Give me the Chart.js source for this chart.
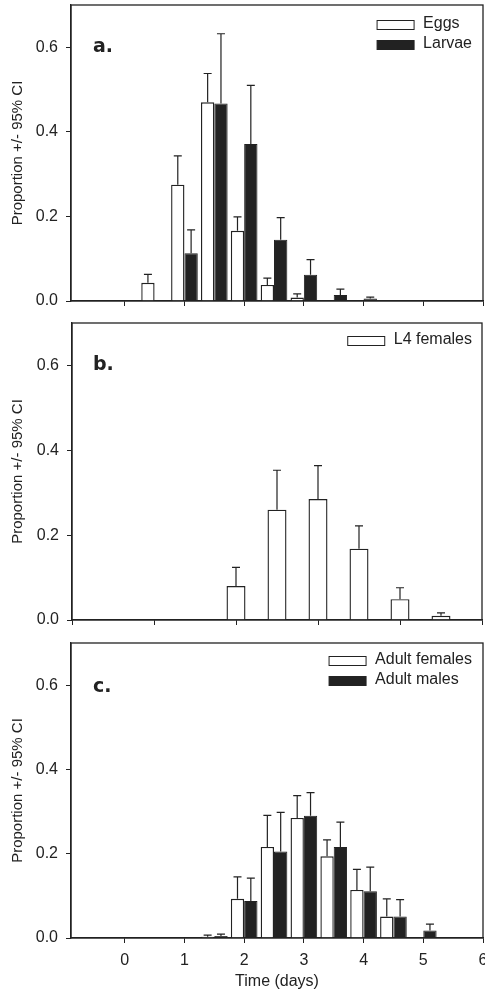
<!DOCTYPE html>
<html>
<head>
<meta charset="utf-8">
<script src="https://cdn.jsdelivr.net/npm/chart.js@4.4.1/dist/chart.umd.min.js"></script>
<style>
  html, body { margin: 0; padding: 0; background: #fff; }
  body { width: 485px; height: 995px; position: relative; overflow: hidden; }
  canvas { position: absolute; left: 0; }
</style>
</head>
<body>
<canvas id="panelA" width="485" height="316" style="top:0px"></canvas>
<canvas id="panelB" width="485" height="320" style="top:316px"></canvas>
<canvas id="panelC" width="485" height="359" style="top:636px"></canvas>
<script>
// ─── Data (proportion, upper 95% CI) ───────────────────────────────
// a. eggs / larvae
const daysA    = [0.5, 1, 1.5, 2, 2.5, 3, 3.5, 4];
const eggs     = [0.043, 0.275, 0.470, 0.166, 0.038, 0.008, 0, 0];
const eggsCI   = [0.063, 0.343, 0.538, 0.199, 0.054, 0.017, null, null];
const larvae   = [0.002, 0.113, 0.467, 0.371, 0.145, 0.062, 0.014, 0.006];
const larvaeCI = [null, 0.168, 0.632, 0.510, 0.197, 0.098, 0.028, 0.009];

// b. L4 females
const daysB       = [2, 2.5, 3, 3.5, 4, 4.5];
const l4Females   = [0.080, 0.260, 0.285, 0.168, 0.049, 0.010];
const l4FemalesCI = [0.124, 0.353, 0.364, 0.222, 0.076, 0.017];

// c. adults
const daysC          = [1.5, 2, 2.5, 3, 3.5, 4, 4.5, 5];
const adultFemales   = [0.003, 0.093, 0.216, 0.285, 0.194, 0.114, 0.051, 0];
const adultFemalesCI = [0.007, 0.145, 0.291, 0.338, 0.233, 0.163, 0.093, null];
const adultMales     = [0.005, 0.088, 0.205, 0.290, 0.216, 0.111, 0.051, 0.018];
const adultMalesCI   = [0.009, 0.142, 0.298, 0.345, 0.275, 0.168, 0.091, 0.033];

// ticks
const yTicks   = [0, 0.2, 0.4, 0.6];
const xTicksAC = [0, 1, 2, 3, 4, 5, 6];
const xTicksB  = [0, 1, 2, 3, 4, 5];

// ─── Style ──────────────────────────────────────────────────────────
const INK  = '#222';
const FONT = '"Liberation Sans", Arial, sans-serif';

function points(days, vals) {
  return days.map((d, i) => ({ x: d, y: vals[i] }));
}

function whiteSeries(label, days, vals, ci) {
  return { label, data: points(days, vals), ci,
    backgroundColor: '#fff', borderColor: INK, borderWidth: 1.4 };
}
function blackSeries(label, days, vals, ci) {
  return { label, data: points(days, vals), ci,
    backgroundColor: INK, borderColor: INK, borderWidth: 1 };
}

// error bars, frame, legend and panel letter
const decoPlugin = {
  id: 'deco',
  afterDatasetsDraw(chart, args, opts) {
    const ctx = chart.ctx;
    const area = chart.chartArea;
    const yScale = chart.scales.y;
    ctx.save();

    // upper CI whiskers
    ctx.strokeStyle = INK;
    ctx.lineWidth = 1.2;
    chart.data.datasets.forEach((ds, di) => {
      const meta = chart.getDatasetMeta(di);
      meta.data.forEach((bar, i) => {
        const up = ds.ci[i];
        if (up == null) return;
        const yTop = yScale.getPixelForValue(up);
        ctx.beginPath();
        ctx.moveTo(bar.x, bar.y);
        ctx.lineTo(bar.x, yTop);
        ctx.moveTo(bar.x - 4, yTop);
        ctx.lineTo(bar.x + 4, yTop);
        ctx.stroke();
      });
    });

    // frame
    ctx.lineWidth = 1.3;
    ctx.strokeRect(area.left, area.top, area.right - area.left, area.bottom - area.top);

    // legend (right aligned block)
    ctx.font = '16px ' + FONT;
    ctx.textBaseline = 'alphabetic';
    ctx.textAlign = 'left';
    const dsets = chart.data.datasets;
    const maxW = Math.max(...dsets.map(d => ctx.measureText(d.label).width));
    const textX = 472 - maxW;
    dsets.forEach((d, i) => {
      const yc = area.top + opts.legendTop + i * 20;
      ctx.fillStyle = d.backgroundColor;
      ctx.fillRect(textX - 46, yc - 4.5, 37, 9);
      ctx.lineWidth = 1;
      ctx.strokeStyle = INK;
      ctx.strokeRect(textX - 46, yc - 4.5, 37, 9);
      ctx.fillStyle = INK;
      ctx.fillText(d.label, textX, yc + 3);
    });

    // panel letter
    ctx.font = 'bold 19px "DejaVu Sans", sans-serif';
    ctx.fillStyle = INK;
    ctx.fillText(opts.letter, 93, area.top + opts.letterY);

    ctx.restore();
  }
};

function makePanel(id, cfg) {
  return new Chart(document.getElementById(id), {
    type: 'bar',
    data: { datasets: cfg.datasets },
    options: {
      responsive: false,
      animation: false,
      layout: { padding: { top: cfg.top, right: cfg.right, left: 0, bottom: 0 } },
      datasets: { bar: { categoryPercentage: cfg.catPct, barPercentage: 1 } },
      scales: {
        x: {
          type: 'linear',
          min: cfg.xMin,
          max: cfg.xMax,
          offset: false,
          afterBuildTicks: s => { s.ticks = cfg.xTicks.map(v => ({ value: v })); },
          afterFit: s => { s.height = cfg.xAxisH; s.paddingLeft = 0; s.paddingRight = 0; },
          grid: { offset: false, drawOnChartArea: false, tickLength: 5, color: INK },
          border: { color: INK, width: 1.3 },
          ticks: {
            display: cfg.xLabels,
            padding: 8,
            color: INK,
            font: { family: FONT, size: 16 },
            maxRotation: 0,
            callback: v => String(v)
          },
          title: {
            display: cfg.xLabels,
            text: 'Time (days)',
            color: INK,
            font: { family: FONT, size: 16 },
            padding: { top: 0, bottom: 4 }
          }
        },
        y: {
          min: 0,
          max: 0.7,
          afterBuildTicks: s => { s.ticks = yTicks.map(v => ({ value: v })); },
          afterFit: s => { s.width = cfg.left; s.paddingTop = 0; s.paddingBottom = 0; },
          grid: { drawOnChartArea: false, tickLength: 5, color: INK },
          border: { color: INK, width: 1.3 },
          ticks: {
            padding: 8,
            color: INK,
            font: { family: FONT, size: 16 },
            callback: v => v.toFixed(1)
          },
          title: {
            display: true,
            text: 'Proportion +/- 95% CI',
            color: INK,
            font: { family: FONT, size: 15 },
            padding: { top: 9, bottom: 0 }
          }
        }
      },
      plugins: {
        legend: { display: false },
        tooltip: { enabled: false },
        deco: { letter: cfg.letter, letterY: cfg.letterY, legendTop: cfg.legendTop }
      }
    },
    plugins: [decoPlugin]
  });
}

makePanel('panelA', {
  datasets: [
    whiteSeries('Eggs', daysA, eggs, eggsCI),
    blackSeries('Larvae', daysA, larvae, larvaeCI)
  ],
  top: 5, right: 2, left: 71, xAxisH: 15,
  xMin: -0.9, xMax: 6, xTicks: xTicksAC, xLabels: false,
  catPct: 0.893, letter: 'a.', letterY: 47, legendTop: 20
});

makePanel('panelB', {
  datasets: [
    whiteSeries('L4 females', daysB, l4Females, l4FemalesCI)
  ],
  top: 7, right: 3, left: 72, xAxisH: 16,
  xMin: 0, xMax: 5, xTicks: xTicksB, xLabels: false,
  catPct: 0.463, letter: 'b.', letterY: 47, legendTop: 18
});

makePanel('panelC', {
  datasets: [
    whiteSeries('Adult females', daysC, adultFemales, adultFemalesCI),
    blackSeries('Adult males', daysC, adultMales, adultMalesCI)
  ],
  top: 7, right: 2, left: 71, xAxisH: 57,
  xMin: -0.9, xMax: 6, xTicks: xTicksAC, xLabels: true,
  catPct: 0.893, letter: 'c.', letterY: 49, legendTop: 18
});
</script>
</body>
</html>
